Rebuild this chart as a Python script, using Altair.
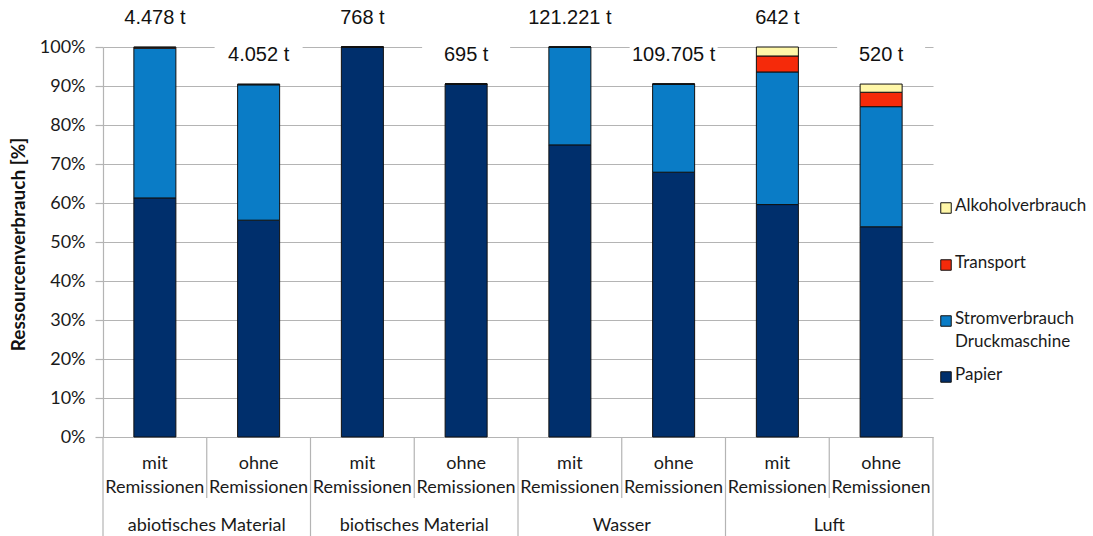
import altair as alt
import pandas as pd

# Slots along the x axis: four resource categories, each with / without remissions
groups = ["abiotisches Material", "biotisches Material", "Wasser", "Luft"]
variants = ["mit", "ohne"]

# Share of resource use per slot, in percent (order: group, then variant)
papier = [61.3, 55.6, 100.0, 90.5, 74.9, 67.9, 59.6, 53.9]
strom = [38.4, 34.7, 0.0, 0.0, 25.1, 22.6, 34.0, 30.8]
transport = [0.2, 0.1, 0.0, 0.0, 0.0, 0.0, 4.1, 3.7]
alkohol = [0.1, 0.1, 0.0, 0.0, 0.0, 0.0, 2.3, 2.1]

# Absolute amounts printed above each bar
totals_label = ["4.478 t", "4.052 t", "768 t", "695 t",
                "121.221 t", "109.705 t", "642 t", "520 t"]

series = ["Papier", "Stromverbrauch Druckmaschine", "Transport", "Alkoholverbrauch"]
colors = ["#002f6c", "#0a7cc6", "#f52a0a", "#fff7a8"]
series_values = [papier, strom, transport, alkohol]

slots = [f"{g}|{v}" for g in groups for v in variants]

rows = []
for s_idx, (name, vals) in enumerate(zip(series, series_values)):
    for slot, val in zip(slots, vals):
        rows.append({"slot": slot, "series": name, "order": s_idx, "value": val / 100})
bars_df = pd.DataFrame(rows)

top_df = pd.DataFrame({
    "slot": slots,
    "total": [sum(v[i] for v in series_values) / 100 for i in range(len(slots))],
    "label": totals_label,
})

cat_df = pd.DataFrame({
    "slot": slots,
    "text": [f"{v}\nRemissionen" for g in groups for v in variants],
    "variant": [v for g in groups for v in variants],
})
grp_df = pd.DataFrame({"slot": [f"{g}|mit" for g in groups], "text": groups})

W, H = 830, 390
STEP = W / len(slots)

yscale = alt.Scale(domain=[0, 1])
xscale = alt.Scale(domain=slots, paddingInner=0.595, paddingOuter=0.2975)
X = alt.X("slot:N", scale=xscale, axis=None, sort=slots)

y_axis = alt.Axis(
    values=[i / 10 for i in range(11)],
    format=".0%",
    grid=True,
    gridColor="#b4b4b4",
    gridWidth=1.2,
    domainColor="#b4b4b4",
    domainWidth=1.2,
    tickColor="#b4b4b4",
    tickSize=8,
    tickWidth=1.2,
    labelFont="Lato",
    labelFontSize=18,
    labelColor="#1a1a1a",
    labelPadding=10,
    labelOverlap=False,
    title="Ressourcenverbrauch [%]",
    titleFont="Lato",
    titleFontSize=19,
    titleFontWeight="bold",
    titleColor="#111111",
    titleX=-75,
    titleY=H / 2 + 2,
)

grid_y = alt.Y("value:Q", stack="zero", scale=yscale, axis=y_axis)
top_y = alt.Y("total:Q", scale=yscale, axis=y_axis)

bars = alt.Chart(bars_df).mark_bar(stroke="#111111", strokeWidth=1).encode(
    x=X,
    y=grid_y,
    color=alt.Color("series:N", scale=alt.Scale(domain=series, range=colors), legend=None),
    order=alt.Order("order:Q"),
)

# White boxes behind the amount labels (they mask the gridlines)
box_shape = "M-1,-0.36H1V0.36H-1Z"
boxes = alt.Chart(top_df).mark_point(
    shape=box_shape, size=88 * 88, filled=True, fill="white", opacity=1, strokeWidth=0,
    yOffset=-29,
).encode(x=X, y=top_y)

top_text = alt.Chart(top_df).mark_text(
    font="Liberation Sans", fontSize=20, color="#111111", baseline="middle", dy=-29,
).encode(x=X, y=top_y, text="label:N")

# Category axis drawn below the plot
cat_text = alt.Chart(cat_df).mark_text(
    font="Lato", fontSize=18, color="#1a1a1a", lineBreak="\n", lineHeight=24, baseline="middle",
).encode(x=X, y=alt.value(H + 27), text="text:N")

grp_text = alt.Chart(grp_df).mark_text(
    font="Lato", fontSize=18, color="#1a1a1a", baseline="middle", xOffset=STEP / 2,
).encode(x=X, y=alt.value(H + 89), text="text:N")

inner_sep = alt.Chart(cat_df[cat_df["variant"] == "ohne"]).mark_rule(
    color="#b4b4b4", strokeWidth=1.2, xOffset=-STEP / 2,
).encode(x=X, y=alt.value(H), y2=alt.value(H + 61))

outer_sep = alt.Chart(cat_df[cat_df["variant"] == "mit"]).mark_rule(
    color="#b4b4b4", strokeWidth=1.2, xOffset=-STEP / 2,
).encode(x=X, y=alt.value(H), y2=alt.value(H + 99))

right_sep = alt.Chart(cat_df.tail(1)).mark_rule(
    color="#b4b4b4", strokeWidth=1.2, xOffset=STEP / 2,
).encode(x=X, y=alt.value(H), y2=alt.value(H + 99))

# Legend, listed top to bottom
legend_layers = []
legend_rows = [
    ("Alkoholverbrauch", colors[3], 161),
    ("Transport", colors[2], 218),
    ("Stromverbrauch\nDruckmaschine", colors[1], 274),
    ("Papier", colors[0], 330),
]
for text, col, ypix in legend_rows:
    legend_layers.append(
        alt.Chart(top_df.head(1)).mark_square(
            size=110, fill=col, stroke="#111111", strokeWidth=1, opacity=1,
        ).encode(x=alt.value(W + 13), y=alt.value(ypix))
    )
    legend_layers.append(
        alt.Chart(top_df.head(1)).mark_text(
            text=text, font="Lato", fontSize=17, color="#1a1a1a", align="left",
            baseline="top", lineBreak="\n", lineHeight=23,
        ).encode(x=alt.value(W + 22), y=alt.value(ypix - 10))
    )

chart = alt.layer(
    bars, boxes, top_text, cat_text, grp_text, inner_sep, outer_sep, right_sep, *legend_layers
).properties(
    width=W,
    height=H,
    autosize=alt.AutoSizeParams(type="none"),
    padding={"left": 103, "top": 47, "right": 1093 - 103 - W, "bottom": 536 - 47 - H},
    background="white",
).configure_view(stroke=None)

chart.save("out.html", embed_options={"renderer": "svg", "actions": False})
